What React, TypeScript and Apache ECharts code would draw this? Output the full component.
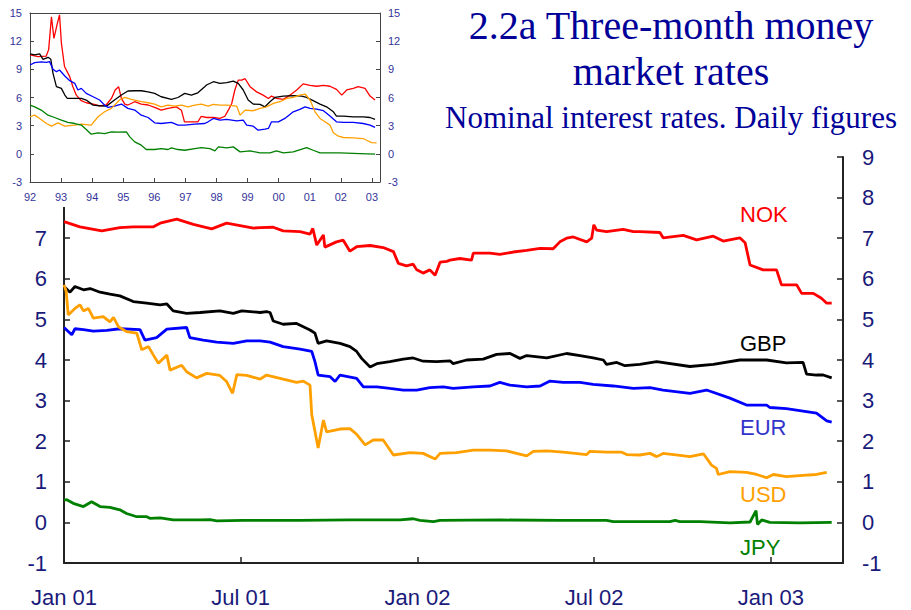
import React, { useEffect, useRef } from 'react';
import * as echarts from 'echarts';

// ---- Main chart (daily figures, x = decimal year) ----
const mainNOK: [number, number][] = [[2001.000,7.41],[2001.045,7.28],[2001.107,7.18],[2001.158,7.26],[2001.196,7.28],[2001.253,7.28],[2001.272,7.37],[2001.319,7.47],[2001.366,7.34],[2001.418,7.23],[2001.460,7.37],[2001.498,7.31],[2001.536,7.25],[2001.555,7.26],[2001.592,7.27],[2001.620,7.18],[2001.668,7.16],[2001.696,7.10],[2001.704,7.24],[2001.715,6.83],[2001.734,7.08],[2001.738,6.78],[2001.771,6.91],[2001.790,6.95],[2001.809,6.68],[2001.828,6.79],[2001.866,6.82],[2001.903,6.77],[2001.932,6.67],[2001.946,6.38],[2001.969,6.32],[2001.988,6.36],[2001.998,6.22],[2002.016,6.14],[2002.035,6.22],[2002.050,6.09],[2002.064,6.41],[2002.083,6.43],[2002.092,6.46],[2002.120,6.50],[2002.153,6.46],[2002.158,6.63],[2002.205,6.63],[2002.233,6.60],[2002.271,6.66],[2002.309,6.70],[2002.347,6.75],[2002.384,6.74],[2002.403,6.91],[2002.422,7.00],[2002.441,7.03],[2002.479,6.91],[2002.493,7.00],[2002.499,7.33],[2002.507,7.20],[2002.535,7.16],[2002.582,7.22],[2002.611,7.16],[2002.629,7.16],[2002.686,7.14],[2002.695,7.01],[2002.752,7.07],[2002.790,6.96],[2002.837,7.05],[2002.865,6.93],[2002.912,7.01],[2002.927,6.89],[2002.941,6.34],[2002.978,6.22],[2003.016,6.22],[2003.030,5.85],[2003.073,5.85],[2003.087,5.64],[2003.120,5.64],[2003.143,5.52],[2003.158,5.40],[2003.172,5.40]];
const mainGBP: [number, number][] = [[2001.000,5.81],[2001.017,5.67],[2001.031,5.81],[2001.055,5.73],[2001.074,5.76],[2001.102,5.67],[2001.130,5.62],[2001.158,5.58],[2001.196,5.44],[2001.234,5.40],[2001.272,5.36],[2001.291,5.38],[2001.309,5.21],[2001.347,5.15],[2001.385,5.17],[2001.441,5.21],[2001.479,5.15],[2001.503,5.21],[2001.555,5.17],[2001.573,5.19],[2001.583,5.17],[2001.592,4.96],[2001.620,4.88],[2001.658,4.90],[2001.696,4.74],[2001.710,4.66],[2001.719,4.41],[2001.743,4.47],[2001.781,4.41],[2001.809,4.33],[2001.828,4.21],[2001.842,4.04],[2001.866,3.83],[2001.885,3.91],[2001.922,3.96],[2001.960,4.02],[2001.988,4.05],[2002.016,3.97],[2002.054,3.96],[2002.092,3.98],[2002.101,3.91],[2002.139,4.00],[2002.186,4.02],[2002.224,4.14],[2002.262,4.16],[2002.290,4.04],[2002.309,4.11],[2002.366,4.05],[2002.422,4.16],[2002.460,4.11],[2002.497,4.05],[2002.526,4.00],[2002.535,3.89],[2002.564,3.94],[2002.587,3.86],[2002.629,3.89],[2002.677,3.96],[2002.771,3.84],[2002.837,3.89],[2002.912,4.00],[2002.988,4.00],[2003.044,3.93],[2003.091,3.94],[2003.101,3.65],[2003.129,3.63],[2003.148,3.63],[2003.172,3.56]];
const mainEUR: [number, number][] = [[2001.000,4.80],[2001.022,4.62],[2001.031,4.77],[2001.055,4.75],[2001.083,4.71],[2001.121,4.73],[2001.158,4.77],[2001.215,4.75],[2001.229,4.49],[2001.262,4.55],[2001.291,4.76],[2001.347,4.80],[2001.356,4.55],[2001.394,4.49],[2001.432,4.44],[2001.479,4.41],[2001.517,4.47],[2001.555,4.47],[2001.583,4.44],[2001.620,4.33],[2001.668,4.27],[2001.701,4.21],[2001.710,3.96],[2001.719,3.63],[2001.753,3.59],[2001.767,3.47],[2001.781,3.63],[2001.828,3.55],[2001.847,3.34],[2001.885,3.34],[2001.922,3.30],[2001.960,3.26],[2001.998,3.26],[2002.035,3.32],[2002.073,3.34],[2002.101,3.30],[2002.158,3.34],[2002.205,3.36],[2002.233,3.45],[2002.262,3.38],[2002.309,3.34],[2002.347,3.36],[2002.375,3.48],[2002.412,3.45],[2002.460,3.45],[2002.497,3.40],[2002.554,3.36],[2002.611,3.30],[2002.658,3.32],[2002.695,3.26],[2002.771,3.18],[2002.818,3.26],[2002.884,3.06],[2002.931,2.89],[2002.988,2.89],[2002.997,2.83],[2003.044,2.80],[2003.091,2.74],[2003.129,2.69],[2003.158,2.50],[2003.172,2.47]];
const mainUSD: [number, number][] = [[2001.000,5.85],[2001.006,5.70],[2001.012,5.11],[2001.031,5.27],[2001.045,5.36],[2001.055,5.21],[2001.069,5.27],[2001.083,5.03],[2001.111,5.07],[2001.130,4.94],[2001.140,5.05],[2001.154,4.82],[2001.177,4.70],[2001.206,4.66],[2001.220,4.25],[2001.239,4.33],[2001.253,4.12],[2001.267,3.92],[2001.291,4.12],[2001.300,3.75],[2001.333,3.87],[2001.347,3.71],[2001.375,3.56],[2001.404,3.67],[2001.441,3.62],[2001.460,3.47],[2001.477,3.18],[2001.489,3.64],[2001.517,3.62],[2001.555,3.53],[2001.573,3.63],[2001.620,3.53],[2001.658,3.45],[2001.677,3.48],[2001.696,3.38],[2001.701,2.65],[2001.719,1.83],[2001.734,2.52],[2001.743,2.23],[2001.781,2.30],[2001.809,2.31],[2001.828,2.17],[2001.852,1.91],[2001.875,2.03],[2001.903,2.03],[2001.932,1.66],[2001.979,1.72],[2002.016,1.70],[2002.050,1.56],[2002.064,1.70],[2002.111,1.72],[2002.158,1.78],[2002.205,1.78],[2002.252,1.76],[2002.309,1.64],[2002.328,1.75],[2002.366,1.76],[2002.412,1.73],[2002.479,1.67],[2002.488,1.75],[2002.535,1.73],[2002.578,1.73],[2002.592,1.67],[2002.629,1.66],[2002.658,1.70],[2002.677,1.62],[2002.695,1.70],[2002.743,1.65],[2002.771,1.62],[2002.809,1.69],[2002.832,1.41],[2002.846,1.33],[2002.851,1.18],[2002.884,1.25],[2002.931,1.23],[2002.960,1.18],[2002.988,1.10],[2003.007,1.18],[2003.044,1.13],[2003.091,1.16],[2003.129,1.18],[2003.158,1.23]];
const mainJPY: [number, number][] = [[2001.000,0.55],[2001.008,0.56],[2001.026,0.47],[2001.055,0.39],[2001.078,0.51],[2001.102,0.39],[2001.130,0.37],[2001.158,0.31],[2001.177,0.22],[2001.206,0.14],[2001.234,0.14],[2001.243,0.10],[2001.272,0.11],[2001.309,0.06],[2001.385,0.06],[2001.413,0.07],[2001.432,0.04],[2001.507,0.05],[2001.555,0.05],[2001.668,0.05],[2001.809,0.06],[2001.951,0.06],[2001.988,0.09],[2002.007,0.05],[2002.045,0.02],[2002.064,0.05],[2002.233,0.06],[2002.403,0.05],[2002.535,0.05],[2002.554,0.02],[2002.714,0.02],[2002.729,0.05],[2002.742,0.02],[2002.800,0.02],[2002.884,-0.01],[2002.941,0.01],[2002.958,0.29],[2002.962,-0.05],[2002.974,0.06],[2002.997,0.00],[2003.082,-0.01],[2003.172,0.00]];

// ---- Inset (1992-2003, x = decimal year) ----
const insetNOK: [number, number][] = [[1992.00,10.53],[1992.26,10.36],[1992.52,10.4],[1992.60,11.1],[1992.69,14.6],[1992.77,12.3],[1992.88,13.9],[1992.95,14.8],[1993.01,11.8],[1993.11,9.3],[1993.28,8.2],[1993.38,7.15],[1993.49,6.25],[1993.65,5.66],[1993.81,5.44],[1994.03,5.3],[1994.24,5.1],[1994.45,5.2],[1994.62,5.9],[1994.74,6.8],[1994.85,7.15],[1994.94,5.9],[1995.05,5.3],[1995.15,5.2],[1995.37,5.55],[1995.58,5.3],[1995.80,5.2],[1996.01,4.95],[1996.22,4.65],[1996.44,4.85],[1996.71,5.0],[1996.87,4.65],[1996.97,3.4],[1997.19,3.4],[1997.40,3.4],[1997.51,4.0],[1997.68,3.87],[1997.90,3.87],[1998.11,3.77],[1998.27,4.0],[1998.38,4.65],[1998.49,5.36],[1998.59,6.8],[1998.70,7.85],[1998.81,7.85],[1998.92,8.0],[1999.08,7.15],[1999.29,6.6],[1999.50,6.25],[1999.67,5.9],[1999.77,6.15],[1999.93,5.9],[2000.15,5.8],[2000.36,6.25],[2000.58,6.8],[2000.79,7.45],[2001.01,7.3],[2001.22,7.2],[2001.44,7.3],[2001.65,7.2],[2001.86,6.86],[2002.03,6.25],[2002.19,6.8],[2002.40,6.97],[2002.56,7.15],[2002.78,6.97],[2002.94,6.15],[2003.10,5.73]];
const insetGBP: [number, number][] = [[1992.00,10.64],[1992.15,10.53],[1992.31,10.64],[1992.42,10.07],[1992.58,10.28],[1992.67,10.07],[1992.74,8.57],[1992.85,7.15],[1993.01,6.97],[1993.12,6.26],[1993.20,5.9],[1993.44,5.9],[1993.65,5.9],[1993.81,5.73],[1994.03,5.19],[1994.24,5.12],[1994.46,5.08],[1994.72,5.73],[1994.94,6.26],[1995.15,6.69],[1995.37,6.72],[1995.58,6.72],[1995.80,6.61],[1996.01,6.44],[1996.22,6.08],[1996.55,5.8],[1996.76,6.0],[1996.98,6.44],[1997.19,6.26],[1997.40,6.5],[1997.62,7.15],[1997.68,7.33],[1997.90,7.68],[1998.11,7.5],[1998.33,7.58],[1998.54,7.75],[1998.70,7.5],[1998.86,6.8],[1999.02,5.73],[1999.18,5.3],[1999.40,5.26],[1999.56,5.01],[1999.72,5.55],[1999.88,6.01],[2000.15,6.15],[2000.47,6.19],[2000.74,6.15],[2000.90,6.01],[2001.11,5.66],[2001.33,5.3],[2001.54,5.01],[2001.76,4.48],[2001.86,4.02],[2002.08,4.02],[2002.40,3.94],[2002.72,3.94],[2002.94,3.87],[2003.10,3.66]];
const insetEUR: [number, number][] = [[1992.00,9.46],[1992.15,9.71],[1992.36,9.79],[1992.53,9.75],[1992.63,9.82],[1992.74,9.0],[1992.85,8.75],[1992.95,8.93],[1993.12,8.29],[1993.28,7.79],[1993.44,7.51],[1993.54,6.8],[1993.65,6.97],[1993.81,6.44],[1994.03,6.08],[1994.24,5.73],[1994.40,5.19],[1994.51,4.94],[1994.72,5.08],[1994.94,5.3],[1995.15,4.84],[1995.37,4.66],[1995.58,4.12],[1995.80,3.87],[1996.01,3.3],[1996.22,3.23],[1996.55,3.34],[1996.76,3.06],[1996.98,3.06],[1997.30,3.16],[1997.62,3.23],[1997.73,3.41],[1997.90,3.77],[1998.11,3.59],[1998.33,3.66],[1998.65,3.52],[1998.86,3.59],[1998.97,3.06],[1999.18,2.95],[1999.34,2.52],[1999.56,2.63],[1999.67,2.7],[1999.77,3.41],[1999.99,3.41],[2000.20,3.77],[2000.47,4.48],[2000.68,4.73],[2000.85,5.01],[2001.01,4.84],[2001.22,4.77],[2001.44,4.59],[2001.65,4.02],[2001.86,3.41],[2002.08,3.34],[2002.40,3.34],[2002.72,3.23],[2002.94,3.06],[2003.10,2.81]];
const insetUSD: [number, number][] = [[1992.00,3.95],[1992.15,4.12],[1992.31,3.77],[1992.53,3.23],[1992.69,2.95],[1992.90,3.3],[1993.12,2.95],[1993.44,3.06],[1993.65,3.16],[1993.97,3.06],[1994.19,3.95],[1994.40,4.48],[1994.62,4.84],[1994.88,5.73],[1995.05,6.01],[1995.26,5.8],[1995.58,5.55],[1995.80,5.44],[1996.01,5.3],[1996.22,5.01],[1996.44,5.19],[1996.65,5.08],[1996.87,5.19],[1997.08,5.01],[1997.30,5.19],[1997.51,5.3],[1997.73,5.08],[1997.90,5.26],[1998.11,5.19],[1998.33,5.19],[1998.65,5.08],[1998.76,4.12],[1998.92,4.66],[1999.18,4.59],[1999.40,4.84],[1999.61,5.01],[1999.83,5.37],[2000.04,5.55],[2000.26,5.9],[2000.47,6.01],[2000.68,6.26],[2000.85,6.37],[2001.01,5.73],[2001.17,4.48],[2001.33,3.77],[2001.49,3.41],[2001.65,3.06],[2001.76,2.24],[2001.92,1.88],[2002.08,1.74],[2002.40,1.7],[2002.72,1.63],[2002.83,1.45],[2002.99,1.2],[2003.15,1.17]];
const insetJPY: [number, number][] = [[1992.00,5.19],[1992.15,5.01],[1992.36,4.66],[1992.58,4.12],[1992.79,3.87],[1993.01,3.59],[1993.22,3.34],[1993.44,3.23],[1993.65,3.06],[1993.81,2.59],[1993.97,2.09],[1994.19,2.24],[1994.40,2.16],[1994.62,2.34],[1994.83,2.31],[1995.10,2.34],[1995.21,1.81],[1995.37,1.27],[1995.58,0.92],[1995.74,0.46],[1996.01,0.46],[1996.22,0.56],[1996.44,0.46],[1996.55,0.63],[1996.76,0.46],[1996.98,0.38],[1997.30,0.56],[1997.51,0.67],[1997.79,0.56],[1997.95,0.31],[1998.06,0.74],[1998.33,0.63],[1998.54,0.74],[1998.76,0.21],[1999.08,0.31],[1999.40,0.1],[1999.72,0.1],[1999.93,0.31],[2000.15,0.1],[2000.47,0.21],[2000.90,0.67],[2001.11,0.38],[2001.33,0.1],[2001.97,0.1],[2002.61,0.03],[2003.10,-0.04]];

const currencies = ['NOK', 'GBP', 'EUR', 'USD', 'JPY'];
const lineColors = ['#ff0000', '#000000', '#0000ff', '#ffa000', '#008000'];
const labelColors = ['#ff0000', '#000000', '#3333cc', '#ffa000', '#008000'];
const mainData = [mainNOK, mainGBP, mainEUR, mainUSD, mainJPY];
const insetData = [insetNOK, insetGBP, insetEUR, insetUSD, insetJPY];

const titleLines = ['2.2a Three-month money', 'market rates'];
const subtitle = 'Nominal interest rates. Daily figures';

const SANS = '"Liberation Sans", Arial, sans-serif';
const SERIF = '"Liberation Serif", "Times New Roman", serif';
const AXIS_TXT = '#1a1a7a';
const INSET_TXT = '#33339a';

function halfYearLabel(v: number): string {
  const k = Math.round(v * 2);
  if (Math.abs(v * 2 - k) > 1e-6) return '';
  const y = Math.floor(k / 2);
  return (k % 2 ? 'Jul ' : 'Jan ') + String(y).slice(2);
}
function yearLabel(v: number): string {
  const k = Math.round(v);
  if (Math.abs(v - k) > 1e-6) return '';
  return String(k).slice(2);
}

export default function App() {
  const ref = useRef<HTMLDivElement>(null);
  useEffect(() => {
    const chart = echarts.init(ref.current!, null, { renderer: 'svg' });
    const series: any[] = [];
    currencies.forEach((c, i) => {
      series.push({
        name: c, type: 'line', xAxisIndex: 0, yAxisIndex: 0, data: mainData[i],
        showSymbol: false, symbol: 'none', z: 2,
        lineStyle: { color: lineColors[i], width: 2.8 }, itemStyle: { color: lineColors[i] },
      });
    });
    currencies.forEach((c, i) => {
      series.push({
        name: c + ' inset', type: 'line', xAxisIndex: 1, yAxisIndex: 2, data: insetData[i],
        showSymbol: false, symbol: 'none', z: 20,
        lineStyle: { color: lineColors[i], width: 1.3 }, itemStyle: { color: lineColors[i] },
      });
    });
    const labelY = [214, 343, 427, 494, 547];
    const graphics: any[] = [
      { type: 'rect', z: 10, shape: { x: 0, y: 0, width: 405, height: 207 }, style: { fill: '#ffffff' } },
      { type: 'text', z: 30, x: 671, y: 25, style: { text: titleLines[0], font: `40px ${SERIF}`, fill: '#000099', textAlign: 'center', textVerticalAlign: 'middle', align: 'center', verticalAlign: 'middle' } },
      { type: 'text', z: 30, x: 671, y: 71, style: { text: titleLines[1], font: `40px ${SERIF}`, fill: '#000099', textAlign: 'center', textVerticalAlign: 'middle', align: 'center', verticalAlign: 'middle' } },
      { type: 'text', z: 30, x: 671, y: 117, style: { text: subtitle, font: `31px ${SERIF}`, fill: '#000099', textAlign: 'center', textVerticalAlign: 'middle', align: 'center', verticalAlign: 'middle' } },
    ];
    currencies.forEach((c, i) => {
      graphics.push({ type: 'text', z: 30, x: 740, y: labelY[i], style: { text: c, font: `22px ${SANS}`, fill: labelColors[i], textAlign: 'left', textVerticalAlign: 'middle', align: 'left', verticalAlign: 'middle' } });
    });
    const mainAxisLine = { show: true, lineStyle: { color: '#222', width: 2 } };
    const insetAxisLine = { show: true, lineStyle: { color: '#444', width: 1 } };
    chart.setOption({
      animation: false,
      backgroundColor: '#ffffff',
      grid: [
        { left: 64, right: 68, top: 157, bottom: 47 },
        { left: 30, right: 531, top: 13, bottom: 428 },
      ],
      xAxis: [
        {
          type: 'value', gridIndex: 0, min: 2001, max: 2003.204, interval: 0.5, z: 0,
          axisLine: { ...mainAxisLine, onZero: false },
          axisTick: { show: true, inside: true, length: 6, lineStyle: { color: '#222', width: 1.5 } },
          axisLabel: { formatter: halfYearLabel, color: AXIS_TXT, fontSize: 22, fontFamily: SANS, margin: 23, showMaxLabel: false },
          splitLine: { show: false },
        },
        {
          type: 'value', gridIndex: 1, min: 1992, max: 2003.26, interval: 1, z: 20,
          axisLine: { ...insetAxisLine, onZero: false },
          axisTick: { show: true, inside: true, length: 4, lineStyle: { color: '#444' } },
          axisLabel: { formatter: yearLabel, color: INSET_TXT, fontSize: 11, fontFamily: SANS, margin: 9, showMaxLabel: false },
          splitLine: { show: false },
        },
        {
          type: 'value', gridIndex: 1, position: 'top', min: 1992, max: 2003.26, z: 20,
          axisLine: { ...insetAxisLine, onZero: false },
          axisTick: { show: false }, axisLabel: { show: false }, splitLine: { show: false },
        },
      ],
      yAxis: [
        {
          type: 'value', gridIndex: 0, position: 'left', min: -1, max: 9, interval: 1, z: 0,
          axisLine: { ...mainAxisLine, onZero: false },
          axisTick: { show: true, inside: true, length: 6, lineStyle: { color: '#222', width: 1.5 } },
          axisLabel: { formatter: (v: number) => (v > 7 ? '' : String(v)), color: AXIS_TXT, fontSize: 22, fontFamily: SANS, margin: 17 },
          splitLine: { show: false },
        },
        {
          type: 'value', gridIndex: 0, position: 'right', min: -1, max: 9, interval: 1, z: 0,
          axisLine: { ...mainAxisLine, onZero: false },
          axisTick: { show: true, inside: true, length: 6, lineStyle: { color: '#222', width: 1.5 } },
          axisLabel: { color: AXIS_TXT, fontSize: 22, fontFamily: SANS, margin: 19 },
          splitLine: { show: false },
        },
        {
          type: 'value', gridIndex: 1, position: 'left', min: -3, max: 15, interval: 3, z: 20,
          axisLine: { ...insetAxisLine, onZero: false },
          axisTick: { show: true, inside: true, length: 4, lineStyle: { color: '#444' } },
          axisLabel: { color: INSET_TXT, fontSize: 11, fontFamily: SANS, margin: 8 },
          splitLine: { show: false },
        },
        {
          type: 'value', gridIndex: 1, position: 'right', min: -3, max: 15, interval: 3, z: 20,
          axisLine: { ...insetAxisLine, onZero: false },
          axisTick: { show: true, inside: true, length: 4, lineStyle: { color: '#444' } },
          axisLabel: { color: INSET_TXT, fontSize: 11, fontFamily: SANS, margin: 8 },
          splitLine: { show: false },
        },
      ],
      series,
      graphic: { elements: graphics },
    });
    return () => chart.dispose();
  }, []);
  return <div ref={ref} style={{ position: 'absolute', left: 0, top: 0, width: 911, height: 610 }} />;
}
